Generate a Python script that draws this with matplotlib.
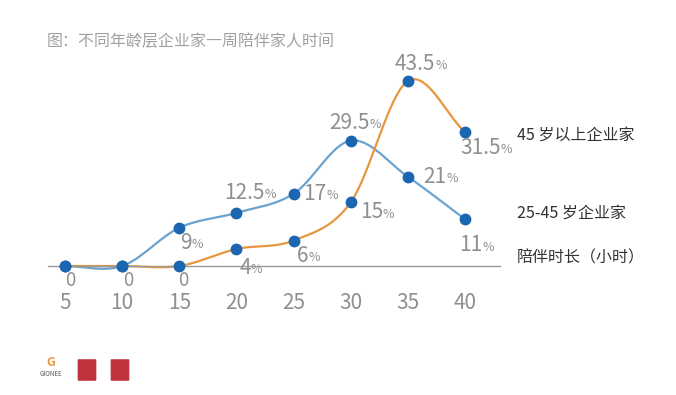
import numpy as np
import matplotlib.pyplot as plt
from matplotlib.patches import FancyBboxPatch

plt.rcParams['font.family'] = ['Noto Sans CJK SC', 'DejaVu Sans']

hours = [5, 10, 15, 20, 25, 30, 35, 40]
young = [0, 0, 9, 12.5, 17, 29.5, 21, 11]        # 25-45 岁企业家
older = [0, 0, 0, 4, 6, 15, 43.5, 31.5]         # 45 岁以上企业家

# label offsets in pixels (dx, dy) relative to each marker; None = no label
young_off = [(5, -14), (6, -14), (1, -15), (-12, 20), (10, 0), (-22, 18), (15, 0), (-6, -26)]
older_off = [None, None, (4, -14), (3, -19), (3, -15), (9, -10), (-13, 17), (-5, -16)]

c_young = '#6aa3cf'
c_older = '#e8963f'
c_dot = '#1a66b0'
c_lab = '#8f8f8f'


def smooth(x, y, n=40):
    # catmull-rom through the points
    x = np.asarray(x, float)
    y = np.asarray(y, float)
    px = np.concatenate([[2 * x[0] - x[1]], x, [2 * x[-1] - x[-2]]])
    py = np.concatenate([[2 * y[0] - y[1]], y, [2 * y[-1] - y[-2]]])
    xs, ys = [], []
    t = np.linspace(0, 1, n)
    for i in range(1, len(px) - 2):
        for arr, out in ((px, xs), (py, ys)):
            p0, p1, p2, p3 = arr[i - 1], arr[i], arr[i + 1], arr[i + 2]
            out.append(0.5 * ((2 * p1) + (-p0 + p2) * t
                              + (2 * p0 - 5 * p1 + 4 * p2 - p3) * t ** 2
                              + (-p0 + 3 * p1 - 3 * p2 + p3) * t ** 3))
    return np.concatenate(xs), np.concatenate(ys)


fig = plt.figure(figsize=(6.76, 3.95), dpi=100, facecolor='w')
ax = fig.add_axes([48 / 676, 129 / 395, 452 / 676, 195.5 / 395])

for vals, col in ((young, c_young), (older, c_older)):
    sx, sy = smooth(hours, vals)
    ax.plot(sx, sy, color=col, lw=1.6, clip_on=False, zorder=2)
for vals in (young, older):
    ax.plot(hours, vals, 'o', color=c_dot, ms=7.5, clip_on=False, zorder=3)


def pct_label(x, y, off, zero):
    dx, dy = off
    if zero:
        ax.annotate('0', (x, y), xytext=(dx, dy), textcoords='offset pixels',
                    ha='center', va='center', fontsize=13.5, color=c_lab, fontweight='light')
        return
    s = ('%g' % y)
    t = ax.annotate(s, (x, y), xytext=(dx, dy), textcoords='offset pixels',
                    ha='left', va='center', fontsize=15, color=c_lab, fontweight='light')
    ax.annotate('%', xy=(1, 0.12), xycoords=t, ha='left', va='bottom',
                fontsize=9, color=c_lab)


for x, y, off in zip(hours, young, young_off):
    pct_label(x, y, off, y == 0)
for x, y, off in zip(hours, older, older_off):
    if off is not None:
        pct_label(x, y, off, y == 0)

ax.set_xlim(3.51, 43.06)
ax.set_ylim(0, 46)
for s in ('top', 'right', 'left'):
    ax.spines[s].set_visible(False)
ax.spines['bottom'].set_color('#999999')
ax.spines['bottom'].set_linewidth(1.0)
ax.set_yticks([])
ax.set_xticks(hours)
ax.set_xticklabels([str(h) for h in hours])
ax.tick_params(axis='x', length=0, pad=19, labelsize=15, labelcolor=c_lab)

fig.text(47 / 676, 1 - 42 / 395, '图：不同年龄层企业家一周陪伴家人时间', fontsize=11.5,
         color='#a0a0a0', va='center', ha='left')
fig.text(517 / 676, 1 - 135 / 395, '45 岁以上企业家', fontsize=11.5, color='#333333', va='center')
fig.text(517 / 676, 1 - 213 / 395, '25-45 岁企业家', fontsize=11.5, color='#333333', va='center')
fig.text(517 / 676, 1 - 258 / 395, '陪伴时长（小时）', fontsize=11.5, color='#333333', va='center')

# small logos at bottom-left
fig.text(51 / 676, 1 - 363 / 395, 'G', fontsize=9, color='#e8963f', ha='center', va='center',
         fontweight='bold')
fig.text(51 / 676, 1 - 374 / 395, 'GIONEE', fontsize=4.5, color='#555555', ha='center', va='center')
for x0 in (79, 112):
    fig.patches.append(FancyBboxPatch((x0 / 676, 1 - 380 / 395), 16 / 676, 20 / 395,
                                      boxstyle='round,pad=0.002', transform=fig.transFigure,
                                      fc='#c0333d', ec='none'))

fig.savefig('out.png', dpi=100, facecolor='w')
